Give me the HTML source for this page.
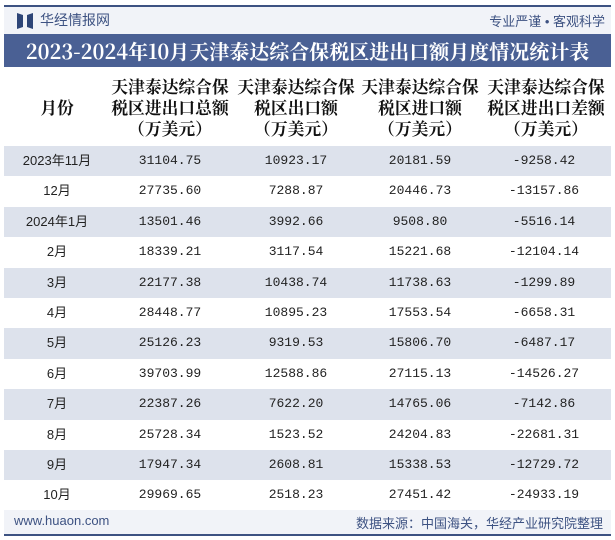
<!DOCTYPE html>
<html><head><meta charset="utf-8">
<style>
body{margin:0;width:615px;height:540px;background:#fff;position:relative;overflow:hidden;font-family:"Liberation Sans","Noto Sans CJK SC",sans-serif;}
.abs{position:absolute;}
#topline{left:4px;top:5px;width:607px;height:2px;background:#3d5282;}
#botline{left:4px;top:534px;width:607px;height:2px;background:#3d5282;}
#strip{left:4px;top:7px;width:607px;height:27px;background:#f1f3f8;}
#brand{left:40px;top:10px;font-size:14px;color:#3d5282;}
#slogan{right:10px;top:11px;font-size:13px;color:#3d5282;}
#title{left:4px;top:34px;width:607px;height:33px;background:#4a6094;color:#fff;font-family:"Noto Serif CJK SC",serif;font-weight:bold;font-size:20px;line-height:33px;text-align:center;white-space:nowrap;}
.hd{top:76px;font-family:"Noto Serif CJK SC",serif;font-weight:bold;font-size:16.8px;line-height:21px;text-align:center;color:#111;white-space:nowrap;}
.row{position:absolute;left:4px;width:607px;height:30.4px;}
.cell{position:absolute;top:0;height:30.4px;line-height:30.4px;text-align:center;font-size:13px;color:#222;font-family:"Liberation Mono","Noto Sans CJK SC",monospace;transform:translateX(-50%);white-space:nowrap;}
#footer{left:4px;top:510px;width:607px;height:24px;background:#f1f3f8;}
#site{left:14px;top:513px;font-size:13px;color:#3d5282;}
#src{right:12px;top:513px;font-size:13px;color:#3d5282;}
</style></head><body>
<div class="abs" id="topline"></div>
<div class="abs" id="strip"></div>
<svg class="abs" style="left:17px;top:13px" width="16" height="16"><path d="M0 0 L6 2 L6 14 L0 16Z M16 0 L10 2 L10 14 L16 16Z" fill="#2d4577"/></svg>
<div class="abs" id="brand">华经情报网</div>
<div class="abs" id="slogan">专业严谨 • 客观科学</div>
<div class="abs" id="title">2023-2024年10月天津泰达综合保税区进出口额月度情况统计表</div>
<div class="abs hd" style="left:27px;width:60px;top:97px">月份</div>
<div class="abs hd" style="left:110px;width:120px">天津泰达综合保<br>税区进出口总额<br>（万美元）</div>
<div class="abs hd" style="left:236px;width:120px">天津泰达综合保<br>税区出口额<br>（万美元）</div>
<div class="abs hd" style="left:360px;width:120px">天津泰达综合保<br>税区进口额<br>（万美元）</div>
<div class="abs hd" style="left:486px;width:120px">天津泰达综合保<br>税区进出口差额<br>（万美元）</div>
<div id="rows"></div>
<div class="abs" id="footer"></div>
<div class="abs" id="site">www.huaon.com</div>
<div class="abs" id="src">数据来源：中国海关，华经产业研究院整理</div>
<div class="abs" id="botline"></div>
<script>
const months=["2023年11月","12月","2024年1月","2月","3月","4月","5月","6月","7月","8月","9月","10月"];
const totals=["31104.75","27735.60","13501.46","18339.21","22177.38","28448.77","25126.23","39703.99","22387.26","25728.34","17947.34","29969.65"];
const exportsV=["10923.17","7288.87","3992.66","3117.54","10438.74","10895.23","9319.53","12588.86","7622.20","1523.52","2608.81","2518.23"];
const importsV=["20181.59","20446.73","9508.80","15221.68","11738.63","17553.54","15806.70","27115.13","14765.06","24204.83","15338.53","27451.42"];
const balances=["-9258.42","-13157.86","-5516.14","-12104.14","-1299.89","-6658.31","-6487.17","-14526.27","-7142.86","-22681.31","-12729.72","-24933.19"];
const rowsEl=document.getElementById('rows');
const centers=[53,166,292,416,540];
const names=['month-cell','total-cell','export-cell','import-cell','balance-cell'];
months.forEach((m,i)=>{
  const r=document.createElement('div');
  r.className='row';
  r.style.top=(146+i*30.4)+'px';
  r.style.background=i%2===0?'#dde2ec':'transparent';
  
  
  const vals=[m,totals[i],exportsV[i],importsV[i],balances[i]];
  vals.forEach((v,j)=>{
    const c=document.createElement('div');
    c.className='cell';
    c.style.left=centers[j]+'px';
    if(j===0)c.style.fontFamily='"Liberation Sans","Noto Sans CJK SC",sans-serif';
    c.textContent=v;
    
    
    r.appendChild(c);
  });
  rowsEl.appendChild(r);
});
</script>
</body></html>
